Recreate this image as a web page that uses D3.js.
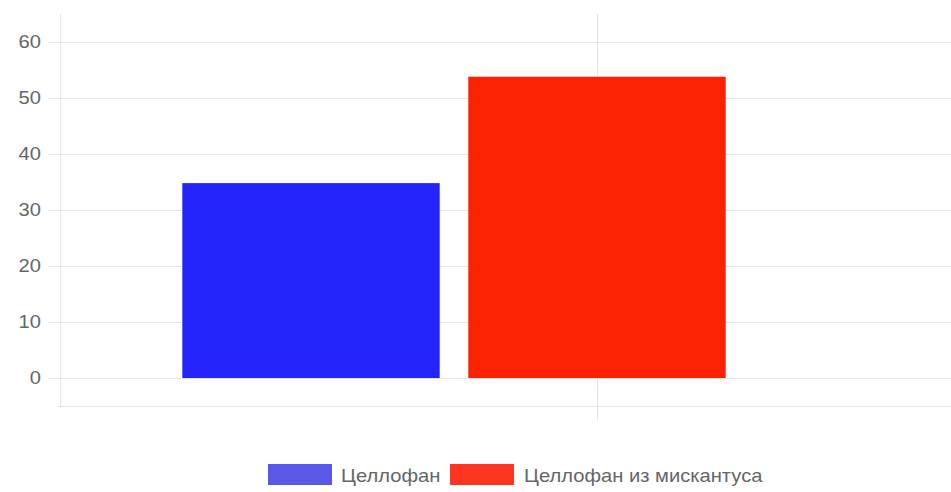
<!DOCTYPE html>
<html>
<head>
<meta charset="utf-8">
<script src="https://cdn.jsdelivr.net/npm/d3@7"></script>
<style>
  html, body { margin: 0; padding: 0; background: #fff; }
  svg { display: block; }
  text { font-family: "Liberation Sans", Arial, sans-serif; }
</style>
</head>
<body>
<div id="chart"></div>
<script>
// ---- data ----
const categories = [""];
const seriesNames = ["Целлофан", "Целлофан из мискантуса"];
const seriesValues = [34.8, 53.8];
const barColors = ["#2424fc", "#fd2104"];
const legendColors = ["#5a58e6", "#fd3420"];
const yTicks = [0, 10, 20, 30, 40, 50, 60];

// ---- layout ----
const W = 951, H = 492;
const svg = d3.select("#chart").append("svg").attr("width", W).attr("height", H);

const plotLeft = 60, plotRight = 951, plotTop = 14, plotBottom = 406;
const textStretch = 1.12;

const y = d3.scaleLinear().domain([-5, 65]).range([plotBottom, plotTop]);
const x0 = d3.scaleBand().domain(categories).range([168, 740]).paddingInner(0).paddingOuter(0);
const x1 = d3.scaleBand().domain(seriesNames).range([0, x0.bandwidth()]).paddingInner(0.1).paddingOuter(0.05);

const gridColor = "#e5e5e5";

// horizontal gridlines + tick marks
const yAxis = d3.axisLeft(y).tickValues(yTicks).tickSize(-(plotRight - plotLeft)).tickPadding(8);
const gy = svg.append("g").attr("transform", `translate(${plotLeft},0)`).call(yAxis);
gy.select(".domain").remove();
gy.selectAll(".tick line").attr("stroke", gridColor).attr("x1", -12);
gy.selectAll(".tick text")
  .attr("x", 0)
  .attr("dy", "0.28em")
  .attr("transform", `translate(-19,0) scale(${textStretch},1)`)
  .attr("fill", "#666")
  .style("font-size", "18px")
  .style("font-family", "'Liberation Sans', Arial, sans-serif");

// bottom border line
svg.append("line").attr("x1", plotLeft - 2).attr("x2", plotRight)
  .attr("y1", plotBottom + 0.5).attr("y2", plotBottom + 0.5).attr("stroke", gridColor);

// vertical gridlines
svg.append("line").attr("x1", plotLeft + 0.5).attr("x2", plotLeft + 0.5)
  .attr("y1", plotTop).attr("y2", plotBottom + 2).attr("stroke", gridColor);
svg.append("line").attr("x1", 597.5).attr("x2", 597.5)
  .attr("y1", plotTop).attr("y2", 420).attr("stroke", gridColor);

// bars
const g = svg.append("g");
categories.forEach(cat => {
  seriesNames.forEach((name, i) => {
    const v = seriesValues[i];
    g.append("rect")
      .attr("x", x0(cat) + x1(name))
      .attr("width", x1.bandwidth())
      .attr("y", y(Math.max(0, v)))
      .attr("height", Math.abs(y(v) - y(0)))
      .attr("fill", barColors[i]);
  });
});

// legend
const legend = svg.append("g");
const legendItems = [
  { x: 268, textX: 341 },
  { x: 450, textX: 524 }
];
seriesNames.forEach((name, i) => {
  legend.append("rect")
    .attr("x", legendItems[i].x).attr("y", 464)
    .attr("width", 64).attr("height", 21)
    .attr("fill", legendColors[i]);
  legend.append("text")
    .attr("x", 0).attr("y", 0)
    .attr("transform", `translate(${legendItems[i].textX},482) scale(${textStretch},1)`)
    .attr("fill", "#666")
    .style("font-size", "18px")
    .text(name);
});
</script>
</body>
</html>
